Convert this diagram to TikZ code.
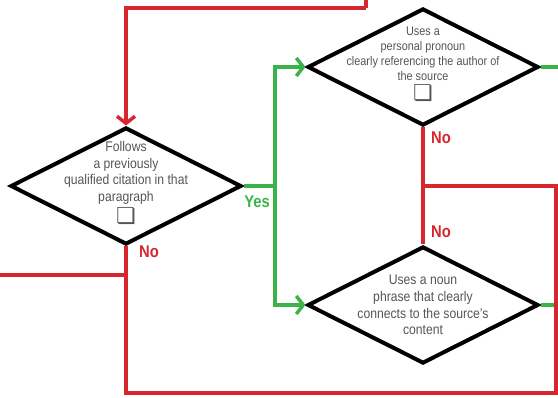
\documentclass[tikz,border=0pt]{standalone}
\usepackage{fontspec}
\setmainfont{Liberation Sans}[FakeStretch=0.87]
\newfontfamily\boxfont{DejaVu Sans}
\usepackage{tikz}
\usetikzlibrary{shapes.geometric,arrows.meta,positioning}
\definecolor{nored}{HTML}{D7262E}
\definecolor{yesgreen}{HTML}{3AB34A}
\definecolor{txtgray}{HTML}{555555}
\newcommand{\tickbox}{{\boxfont\fontsize{22}{22}\selectfont ❏}}
\tikzset{
    %Define standard arrow tip
    >={Straight Barb[length=7pt,width=18pt,line width=3.5pt]},
    %Define style for decisions
    choice/.style={
           diamond,
           draw=black, line width=4pt,
           minimum width=231pt,
           minimum height=117pt,
           inner sep=0pt},
    % Define style for the text inside
    choicetxt/.style={
           text=txtgray,
           align=center,
           font=\fontsize{14}{16.7}\selectfont},
    % Define line styles
    pilno/.style={
           draw=nored,
           line width=3.5pt},
    pilyes/.style={
           draw=yesgreen,
           line width=3.5pt},
    answ/.style={
           inner sep=0pt,
           font=\bfseries\fontsize{17}{20}\selectfont}
}
\begin{document}
\begin{tikzpicture}[x=1pt,y=-1pt]
        \useasboundingbox (0,0) rectangle (558,398);
         %nodes
         \node[choice] (follow) at (126,186) {};
         \node[choice] (pronoun) at (423,67) {};
         \node[choice] (nounph) at (423,305) {};
         \node[choicetxt] (followtxt) at (126,183) {Follows\\a previously\\qualified citation in that\\paragraph\\[2pt]\tickbox};
         \node[choicetxt,font=\fontsize{12.5}{15}\selectfont] (pronountxt) at (423,64) {Uses a\\personal pronoun\\clearly referencing the author of\\the source\\[3pt]\tickbox};
         \node[choicetxt] (nounphtxt) at (423,305) {Uses a noun\\phrase that clearly\\connects to the source's\\content};
         %coordinates
         \coordinate (intop) at (366,0);
         \coordinate (inturn) at (366,8);
         \coordinate (yessplit) at (275,186);
         \coordinate (nojoin) at (424,186);
         \coordinate (rbot) at (556,393);
         \coordinate (outleft) at (0,275);
         \coordinate (outtop) at (558,67);
         \coordinate (outbot) at (556,305);
         %connectors
         \draw[pilno] (intop) -- (inturn);
         \draw[pilno,->] (inturn) -| (follow.north);
         \draw[pilyes] (follow.east) -- (yessplit);
         \draw[pilyes,->] (yessplit) |- (pronoun.west);
         \draw[pilyes,->] (yessplit) |- (nounph.west);
         \draw[pilyes] (pronoun.east) -- (outtop);
         \draw[pilyes] (nounph.east) -- (outbot);
         \draw[pilno] (pronoun.south) -- (nounph.north);
         \draw[pilno] (nojoin) -| (rbot) -| (follow.south);
         \draw[pilno] (outleft) -- (follow.south |- outleft);
         %labels
         \node[answ,text=yesgreen] (yeslbl) at (257,202) {Yes};
         \node[answ,text=nored] (nolbl1) at (149,252) {No};
         \node[answ,text=nored] (nolbl2) at (441,138) {No};
         \node[answ,text=nored] (nolbl3) at (441,232) {No};
\end{tikzpicture}
\end{document}
